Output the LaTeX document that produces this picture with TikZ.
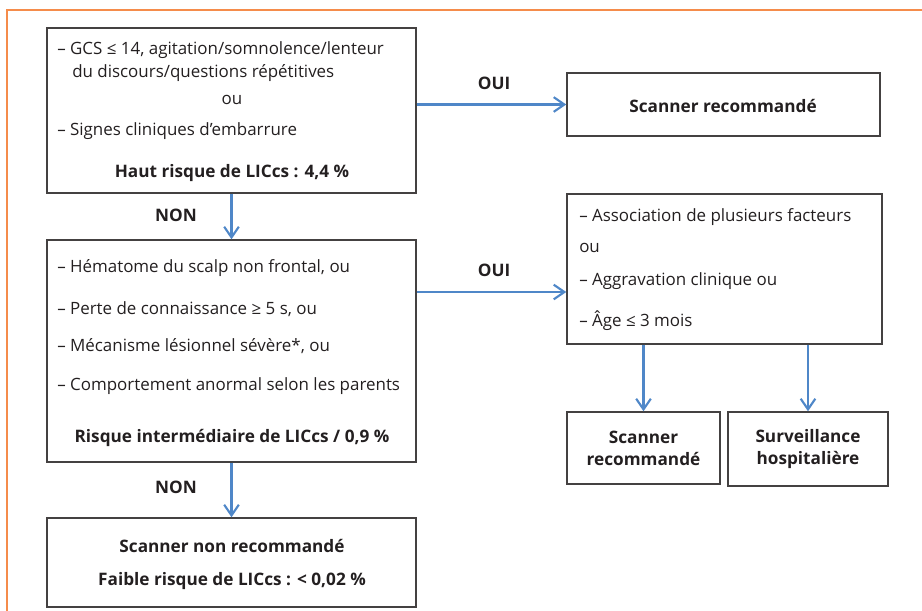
\documentclass[tikz,border=0pt]{standalone}
\usepackage{fontspec}
\setmainfont{Open Sans}
\usetikzlibrary{arrows.meta,fit}

\definecolor{cadre}{RGB}{245,140,75}
\definecolor{fleche}{RGB}{79,135,200}
\definecolor{encre}{RGB}{35,31,32}

\tikzset{
    boite/.style={draw=encre!85, line width=1.1pt, inner sep=0pt},
    flux/.style={draw=fleche, line width=1.6pt, -{Straight Barb[length=8pt,width=11pt]}},
    txt/.style={font=\fontsize{12.7}{15}\selectfont, text=encre, inner sep=0pt},
    gras/.style={txt, font=\fontsize{12.9}{16.5}\selectfont\bfseries, align=center},
}

\begin{document}
\begin{tikzpicture}[x=0.75pt, y=-0.75pt]
    \useasboundingbox (0,0) rectangle (922,611);

    % Cadre
    \draw[cadre, line width=0.9pt] (922,10) -- (7,10) -- (7,611);

    % Boites
    \node[boite, fit={(47,28) (416,193)}] (haut) {};
    \node[boite, fit={(567,73) (880,136)}] (scanA) {};
    \node[boite, fit={(47,240) (416,462)}] (inter) {};
    \node[boite, fit={(567,194) (882,344)}] (suivi) {};
    \node[boite, fit={(567,412) (720,484)}] (scanB) {};
    \node[boite, fit={(728,412) (888,486)}] (surv) {};
    \node[boite, fit={(47,518) (416,607)}] (faible) {};

    % Haut risque
    \node[txt, anchor=west] (h1) at (57,50) {– GCS ≤ 14, agitation/somnolence/lenteur};
    \node[txt, anchor=west] (h2) at (72,73) {du discours/questions répétitives};
    \node[txt] (h3) at (232,100) {ou};
    \node[txt, anchor=west] (h4) at (57,131) {– Signes cliniques d’embarrure};
    \node[gras] (h5) at (232,173) {Haut risque de LICcs : 4,4 \%};

    % Risque intermediaire
    \node[txt, anchor=west] (i1) at (57,268) {– Hématome du scalp non frontal, ou};
    \node[txt, anchor=west] (i2) at (57,309) {– Perte de connaissance ≥ 5 s, ou};
    \node[txt, anchor=west] (i3) at (57,346) {– Mécanisme lésionnel sévère*, ou};
    \node[txt, anchor=west] (i4) at (57,386) {– Comportement anormal selon les parents};
    \node[gras] (i5) at (232,438) {Risque intermédiaire de LICcs / 0,9 \%};

    % Faible risque
    \node[gras] (f1) at (232,546) {Scanner non recommandé};
    \node[gras] (f2) at (232,581) {Faible risque de LICcs : < 0,02 \%};

    % Colonne de droite
    \node[gras] (sA) at (723,106) {Scanner recommandé};
    \node[txt, anchor=west] (s1) at (579,217) {– Association de plusieurs facteurs};
    \node[txt, anchor=west] (s2) at (579,248) {ou};
    \node[txt, anchor=west] (s3) at (579,281) {– Aggravation clinique ou};
    \node[txt, anchor=west] (s4) at (579,321) {– Âge ≤ 3 mois};
    \node[gras] (sB) at (643.5,448) {Scanner\\recommandé};
    \node[gras] (sC) at (808,449) {Surveillance\\hospitalière};

    % Fleches
    \coordinate (j2) at (416,292);
    \draw[flux] (haut.east |- scanA.west) -- (scanA.west);
    \draw[flux] (inter.east |- j2) -- (suivi.west |- j2);
    \draw[flux] (haut.south) -- (inter.north);
    \draw[flux] (inter.south) -- (faible.north);
    \draw[flux] (suivi.south -| scanB.north) -- (scanB.north);
    \draw[flux] (suivi.south -| surv.north) -- (surv.north);

    % Etiquettes
    \node[gras] (oui1) at (494,83) {OUI};
    \node[gras] (oui2) at (494,270) {OUI};
    \node[gras] (non1) at (176,215) {NON};
    \node[gras] (non2) at (176,487) {NON};
\end{tikzpicture}
\end{document}
